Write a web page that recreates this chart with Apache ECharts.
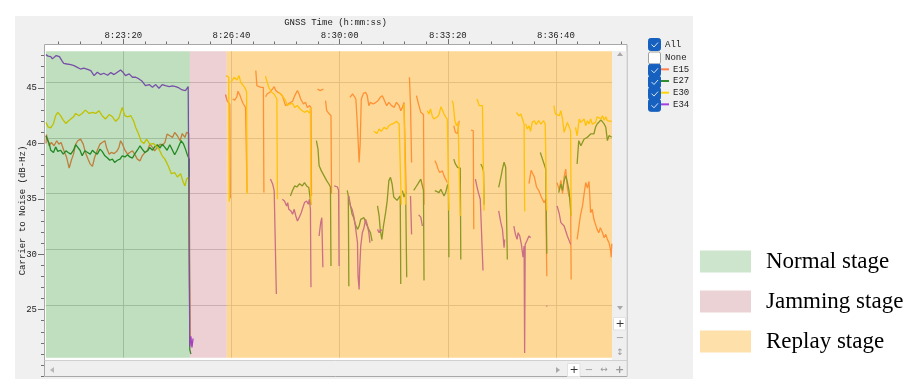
<!DOCTYPE html>
<html>
<head>
<meta charset="utf-8">
<script src="https://cdn.jsdelivr.net/npm/echarts@6/dist/echarts.min.js"></script>
<style>
html, body { margin: 0; padding: 0; background: #fff; }
#main { width: 919px; height: 389px; }
</style>
</head>
<body>
<div id="main"></div>
<script>
// GNSS time in seconds of day, C/N0 in dB-Hz, null = signal lost
var e15 = [
  [30057,39.5],[30058,40.3],[30063,39.3],[30067,39.6],[30072,39.3],[30077,39.75],[30081,39.45],[30085,39.6],[30090,38.9],[30095,38.3],
  [30100,37.3],[30104,38.0],[30108,38.55],[30112,39.45],[30116,39.75],[30121,39.9],[30126,39.45],[30130,38.7],[30135,38.1],[30139,37.65],
  [30143,37.45],[30147,38.25],[30152,38.9],[30157,39.45],[30161,39.6],[30166,39.75],[30169,39.15],[30174,38.55],[30178,38.7],[30183,38.6],
  [30188,38.8],[30192,39.15],[30195,39.75],[30198,39.5],[30203,38.9],[30208,38.55],[30212,38.7],[30217,38.85],[30221,38.55],[30226,38.1],
  [30231,37.95],[30235,38.4],[30240,38.7],[30245,38.9],[30249,39.45],[30254,39.15],[30258,38.85],[30263,39.15],[30268,39.45],[30272,39.3],
  [30277,39.6],[30281,40.35],[30286,40.2],[30291,40.05],[30295,40.5],[30300,40.2],[30305,39.75],[30309,40.4],[30314,40.05],[30317,40.5],
  [30321,40.4],[30323,22.0],null,
  [30389,43.9],[30392,43.35],[30395,43.2],[30397,43.0],[30398,34.6],null,
  [30402,43.5],[30406,43.4],[30410,43.7],[30412,44.2],[30416,43.8],[30418,43.5],[30422,43.05],[30426,42.75],[30428,42.75],[30429,35.1],null,
  [30445,46.05],[30447,44.7],[30451,44.6],[30455,44.55],[30459,44.55],[30460,35.1],null,
  [30463,43.7],[30466,43.95],[30471,44.1],[30476,44.4],[30479,44.6],[30482,44.25],[30486,44.1],[30490,44.0],[30494,43.8],[30500,42.9],
  [30506,43.1],[30513,43.3],[30517,43.8],[30522,44.25],[30525,43.95],[30528,43.5],[30533,43.05],[30537,43.2],[30540,42.75],[30545,42.9],
  [30547,42.7],[30548,34.8],null,
  [30559,44.4],[30564,44.25],[30570,44.4],null,
  [30574,43.35],[30576,42.45],[30580,42.2],[30584,42.0],[30585,35.0],null,
  [30619,43.65],[30624,43.95],[30627,44.1],[30630,43.5],[30633,41.0],[30636,37.8],[30638,39.5],[30640,43.5],[30644,44.0],[30648,44.1],
  [30651,43.8],[30654,42.9],[30657,43.2],[30662,43.05],[30667,43.2],[30671,43.35],[30675,43.65],[30679,43.8],[30683,43.35],[30687,42.9],
  [30691,43.2],[30696,42.9],[30701,42.75],[30705,43.2],[30710,42.9],[30713,42.45],[30716,42.75],[30719,43.2],[30722,43.1],[30723,35.0],null,
  [30729,45.45],[30731,43.0],[30733,37.8],null,
  [30742,43.8],[30745,43.2],[30748,43.05],[30750,42.3],[30753,42.15],[30755,42.1],[30756,34.0],null,
  [30776,37.97],[30779,37.67],[30782,37.2],[30785,36.9],[30790,37.05],[30793,36.6],[30796,36.3],[30799,36.0],null,
  [30811,41.1],[30814,40.5],[30818,40.4],[30821,41.55],null,
  [30843,40.7],[30847,40.66],[30848,31.8],null,
  [30950,35.9],[30954,37.1],[30957,37.2],[30960,36.5],[30964,35.6],[30968,35.3],[30972,34.8],[30978,34.2],[30981,34.5],[30983,27.6],null,
  [31002,36.0],[31006,35.3],[31009,36.2],[31012,35.0],[31015,36.5],[31018,37.2],[31021,35.5],[31024,34.8],[31027,34.5],[31028,27.3],null,
  [31039,30.9],[31042,31.95],[31045,33.0],[31049,33.9],[31052,35.0],[31055,36.0],[31058,35.5],[31061,36.1],[31064,33.3],[31067,33.6],
  [31070,32.7],[31073,32.25],[31076,31.8],[31079,31.5],[31082,31.95],[31086,31.5],[31089,31.05],[31092,31.35],[31095,30.9],[31098,30.6],
  [31101,29.9],[31102,29.3],[31103,30.5]
];

var e27 = [
  [30057,40.2],[30060,40.3],[30063,39.5],[30066,38.9],[30071,38.7],[30075,39.2],[30079,38.8],[30084,38.9],[30089,38.55],[30094,38.85],
  [30098,38.7],[30103,38.55],[30108,38.9],[30112,39.4],[30115,39.5],[30120,38.9],[30124,38.4],[30129,38.85],[30134,38.7],[30139,38.55],
  [30143,38.9],[30147,38.7],[30152,38.55],[30157,39.0],[30161,38.8],[30166,38.4],[30171,38.2],[30175,38.0],[30180,38.1],[30184,37.8],
  [30189,38.0],[30194,38.1],[30198,38.4],[30203,38.3],[30208,38.5],[30212,38.3],[30217,38.2],[30221,38.55],[30226,38.9],[30231,39.3],
  [30235,39.0],[30240,38.7],[30245,38.85],[30249,39.15],[30254,38.9],[30258,39.2],[30263,39.4],[30268,39.1],[30272,39.45],[30277,39.15],
  [30281,38.9],[30286,39.4],[30291,38.9],[30295,38.5],[30299,38.85],[30303,39.3],[30307,39.75],[30311,39.5],[30315,39.0],[30318,38.55],
  [30322,38.1],[30323,21.0],[30325,20.6],null,
  [30509,34.8],[30513,35.3],[30517,35.7],[30521,35.6],[30526,35.9],[30531,35.7],[30535,36.0],[30539,35.7],[30543,35.55],[30546,35.6],
  [30547,34.0],null,
  [30557,39.76],[30560,39.0],[30562,37.52],[30566,37.07],[30571,36.62],[30576,36.17],[30580,35.87],[30583,35.6],[30584,28.5],null,
  [30614,35.3],[30616,34.8],[30617,26.7],null,
  [30619,34.2],[30623,33.15],[30626,32.85],[30629,32.25],[30633,31.8],[30636,32.1],[30639,32.7],[30642,32.55],[30645,32.85],[30648,32.4],
  [30651,32.1],[30654,32.25],[30657,31.5],[30660,30.75],null,
  [30670,33.9],[30673,33.0],[30675,31.8],[30678,30.9],[30681,32.1],[30685,33.3],[30688,34.4],[30691,36.17],[30694,36.47],[30697,35.87],
  [30700,34.7],[30706,34.4],[30712,34.8],[30713,26.9],null,
  [30716,35.27],[30719,34.7],[30722,35.12],[30724,27.5],null,
  [30737,35.3],[30741,35.6],[30745,35.9],[30750,36.3],[30753,36.3],[30755,35.3],[30756,27.2],null,
  [30776,35.27],[30779,35.4],[30784,35.1],[30787,35.4],[30790,35.27],[30793,34.8],[30796,35.1],[30799,35.7],[30801,35.9],[30802,29.3],null,
  [30811,38.1],[30814,37.67],[30818,37.37],[30821,37.5],[30823,37.3],[30824,29.1],null,
  [30861,37.67],[30864,37.37],[30866,37.0],[30867,34.0],null,
  [30894,35.57],[30898,36.47],[30901,37.22],[30904,37.82],[30907,37.37],[30909,37.2],[30910,29.1],null,
  [30971,38.7],[30975,38.1],[30978,37.67],[30981,37.2],[30983,29.6],null,
  [31005,35.1],[31009,35.87],[31012,35.27],[31015,36.17],[31018,36.62],[31021,36.02],[31024,35.27],[31027,35.1],[31028,33.0],null,
  [31039,37.67],[31042,39.76],[31046,39.31],[31049,39.46],[31052,39.91],[31055,39.76],[31058,40.06],[31061,39.91],[31064,40.36],[31067,40.51],
  [31070,40.36],[31073,40.96],[31076,41.26],[31079,41.41],[31083,41.62],[31086,41.56],[31089,41.26],[31092,40.96],[31095,39.76],[31098,40.21],
  [31101,40.36],[31103,40.06]
];

var e30 = [
  [30057,41.4],[30061,41.0],[30066,40.9],[30071,41.3],[30075,42.0],[30079,42.3],[30084,42.0],[30089,41.6],[30094,41.3],[30098,41.5],
  [30103,41.7],[30108,41.9],[30112,42.2],[30118,42.0],[30124,42.2],[30130,42.5],[30137,42.2],[30143,42.3],[30149,42.2],[30155,42.45],
  [30161,42.0],[30167,41.7],[30174,42.1],[30180,41.9],[30186,41.5],[30192,41.8],[30198,42.75],[30203,42.0],[30208,41.9],[30214,42.0],
  [30219,41.55],[30223,40.95],[30228,40.4],[30233,39.7],[30238,39.5],[30243,39.9],[30249,39.45],[30256,39.5],[30260,39.3],[30266,39.0],
  [30272,38.4],[30277,38.1],[30283,37.5],[30289,36.8],[30295,36.9],[30300,36.5],[30306,36.8],[30311,36.0],[30314,35.7],[30317,36.3],
  [30321,36.5],[30323,22.5],[30324,21.8],null,
  [30390,45.6],[30393,45.5],[30395,45.45],[30396,34.3],null,
  [30399,45.0],[30402,44.85],[30405,45.45],[30410,45.2],[30414,45.6],[30417,45.0],[30422,44.7],[30426,44.4],[30428,44.1],[30429,35.0],null,
  [30463,45.54],[30466,45.0],[30469,44.55],[30474,44.1],[30479,43.95],[30482,44.1],[30484,43.5],[30485,34.5],null,
  [30488,44.1],[30491,44.25],[30496,43.65],[30500,43.35],[30503,42.9],[30508,43.05],[30513,43.1],[30517,42.75],[30522,42.9],[30527,42.6],
  [30531,42.45],[30535,42.3],[30540,42.45],[30545,42.22],[30546,42.75],[30547,34.0],null,
  [30663,40.6],[30669,40.4],[30673,40.8],[30677,40.6],[30682,40.95],[30687,40.8],[30691,41.1],[30696,41.25],[30700,41.3],[30705,41.5],
  [30710,41.25],[30713,41.4],[30714,34.0],null,
  [30719,43.05],[30721,42.9],[30722,34.0],null,
  [30762,42.45],[30765,42.15],[30768,42.6],[30771,42.0],[30774,41.7],[30777,41.55],[30781,41.9],[30784,42.15],[30787,42.8],[30790,42.5],
  [30793,42.15],[30796,41.9],[30799,41.7],[30801,41.6],[30802,33.5],null,
  [30808,43.35],[30810,43.05],[30813,41.55],[30816,41.1],[30819,41.4],[30822,41.25],[30823,33.0],null,
  [30854,43.5],[30858,42.9],[30861,42.75],[30864,42.9],[30866,42.8],[30867,33.5],null,
  [30927,42.3],[30931,42.0],[30935,42.15],[30938,41.7],[30941,41.25],[30942,33.4],null,
  [30944,41.25],[30947,40.8],[30950,41.1],[30953,40.6],[30956,41.4],[30960,41.55],[30963,41.2],[30968,41.55],[30972,41.25],[30977,41.55],
  [30980,41.25],[30982,41.1],[30983,33.5],null,
  [30996,42.9],[30999,42.15],[31002,42.3],[31006,42.0],[31009,42.45],[31012,41.7],[31015,40.5],[31018,40.66],[31021,41.4],[31024,41.25],
  [31027,40.66],[31028,33.0],null,
  [31036,40.96],[31039,40.2],[31043,41.7],[31046,41.4],[31049,41.25],[31052,41.7],[31055,41.1],[31058,41.55],[31061,41.25],[31064,41.7],
  [31067,41.25],[31070,41.1],[31073,41.4],[31076,41.9],[31079,41.9],[31083,41.7],[31086,42.0],[31089,41.6],[31092,41.9],[31095,41.55],
  [31098,41.6],[31101,41.5],[31103,41.55]
];

var e34 = [
  [30057,47.48],[30061,47.35],[30066,47.3],[30069,47.1],[30072,47.18],[30076,47.4],[30079,47.45],[30082,47.3],[30084,47.18],[30087,46.9],
  [30090,46.7],[30096,46.64],[30103,46.58],[30109,46.49],[30115,46.34],[30121,46.19],[30127,46.28],[30134,46.16],[30140,46.04],[30146,45.6],
  [30152,45.9],[30158,45.69],[30164,45.81],[30171,45.63],[30177,45.87],[30183,45.69],[30189,45.9],[30195,46.1],[30200,45.87],[30204,45.6],
  [30211,45.75],[30217,45.45],[30223,45.45],[30229,45.3],[30235,45.09],[30241,44.7],[30248,44.79],[30254,44.55],[30260,44.79],[30266,44.46],
  [30272,44.79],[30278,44.7],[30285,44.61],[30291,44.67],[30297,44.61],[30303,44.49],[30309,44.31],[30315,44.25],[30320,44.61],[30322,44.61],
  [30323,21.3],[30325,22.2],[30327,21.2],[30329,22.0],null,
  [30472,36.32],[30476,35.9],[30479,35.27],[30482,35.1],[30483,26.0],null,
  [30494,34.5],[30498,34.35],[30502,33.9],[30504,34.2],[30506,33.6],[30510,33.45],[30513,33.15],[30516,33.6],[30519,33.0],[30522,32.55],
  [30525,32.85],[30529,33.3],[30533,33.9],[30535,34.2],[30539,34.35],[30542,34.05],[30544,34.5],[30546,33.6],[30547,26.6],null,
  [30562,31.2],[30565,32.4],[30567,32.85],[30569,28.4],null,
  [30590,35.7],[30596,35.6],[30598,35.3],[30599,28.5],null,
  [30617,34.8],[30620,33.9],[30623,33.6],[30626,33.0],[30629,32.1],[30633,30.6],[30634,27.6],[30636,26.4],[30637,28.2],[30639,30.3],
  [30642,31.5],[30645,31.95],[30648,32.7],[30651,32.25],[30654,31.5],[30656,30.6],null,
  [30670,31.8],[30673,31.5],[30676,31.8],[30678,31.65],null,
  [30731,34.8],[30733,31.35],null,
  [30746,33.1],[30750,32.9],[30753,32.1],null,
  [30851,36.3],[30854,35.6],[30857,35.0],[30860,34.5],[30863,34.5],[30865,28.1],null,
  [30894,33.45],[30898,32.4],[30901,31.8],[30904,30.15],[30905,30.9],null,
  [30922,32.1],[30925,31.35],[30928,30.9],[30930,31.5],[30933,31.2],[30936,30.45],[30939,29.3],[30941,30.3],[30942,20.7],[30943,30.45],
  [30946,30.75],[30950,31.2],[30953,31.05],null,
  [30982,24.9],[30984,24.9],null,
  [31002,33.9],[31006,33.2],[31009,32.4],[31012,32.55],[31015,32.1],[31018,31.95],[31021,31.2],[31024,31.35],[31027,30.45],null
];

var satNames = ['E15', 'E27', 'E30', 'E34'];
var satColors = ['#ff7f50', '#2e8b2e', '#ffd700', '#a040e0'];

var stageNames = ['Normal stage', 'Jamming stage', 'Replay stage'];
var stageStart = [30057, 30323, 30391];
var stageEnd = [30323, 30391, 31103.5];
var stageFill = ['rgba(0,128,0,0.25)', 'rgba(180,66,84,0.25)', 'rgba(253,168,22,0.45)'];
var stageLegend = ['#c0dfc0', '#e6c8cb', '#fed896'];

var timeTicks = [30200, 30400, 30600, 30800, 31000];
var cnTicks = [25, 30, 35, 40, 45];

var minorTime = [];
for (var t = 30080; t <= 31120; t += 40) minorTime.push(t);
var minorCn = [];
for (var c = 19; c <= 48; c++) minorCn.push(c);

var guiFont = 'Liberation Mono';

function hms(v) {
    var h = Math.floor(v / 3600);
    var m = Math.floor((v % 3600) / 60);
    var s = Math.round(v % 60);
    return h + ':' + (m < 10 ? '0' : '') + m + ':' + (s < 10 ? '0' : '') + s;
}

function toData(pts) {
    return pts.map(function (p) { return p === null ? ['-', '-'] : p; });
}

var docChart = document.getElementById('main');
var myChart = echarts.init(docChart, null, { renderer: 'canvas' });

var series = [];
[e15, e27, e30, e34].forEach(function (pts, i) {
    series.push({
        name: satNames[i],
        type: 'line',
        xAxisIndex: 2,
        yAxisIndex: 2,
        data: toData(pts),
        showSymbol: false,
        symbol: 'none',
        lineStyle: { color: satColors[i], width: 1.3 },
        itemStyle: { color: satColors[i] },
        z: 2
    });
});
stageNames.forEach(function (name, i) {
    series.push({
        name: name,
        type: 'scatter',
        xAxisIndex: 2,
        yAxisIndex: 2,
        data: [],
        itemStyle: { color: stageLegend[i] },
        markArea: {
            silent: true,
            z: 10,
            itemStyle: { color: stageFill[i], borderWidth: 0 },
            data: [[{ xAxis: stageStart[i] }, { xAxis: stageEnd[i] }]]
        }
    });
});

// gray panel, scroll bars and the checkbox list (GUI decoration)
var boxTops = [38.5, 52, 64.3, 76, 87.6, 99.3];
var gui = [
    { type: 'rect', z: -10, shape: { x: 15, y: 16, width: 678, height: 363 }, style: { fill: '#f0f0f0' } },
    { type: 'rect', z: -9, shape: { x: 44.5, y: 44.5, width: 582.5, height: 332 }, style: { fill: '#fff', stroke: '#a8a8a8', lineWidth: 1 } },
    { type: 'rect', z: -8, shape: { x: 612, y: 51, width: 14.5, height: 309 }, style: { fill: '#efefef' } },
    { type: 'rect', z: -8, shape: { x: 45, y: 360, width: 581.5, height: 16 }, style: { fill: '#efefef' } },
    { type: 'line', z: -7, shape: { x1: 44.5, y1: 360.5, x2: 627, y2: 360.5 }, style: { stroke: '#d0d0d0', lineWidth: 1 } },
    { type: 'polygon', z: -7, shape: { points: [[617, 56], [623, 56], [620, 52]] }, style: { fill: '#a8a8a8' } },
    { type: 'polygon', z: -7, shape: { points: [[617, 306], [623, 306], [620, 310]] }, style: { fill: '#a8a8a8' } },
    { type: 'polygon', z: -7, shape: { points: [[54, 367], [54, 373], [50, 370]] }, style: { fill: '#b8b8b8' } },
    { type: 'polygon', z: -7, shape: { points: [[556, 367], [556, 373], [560, 370]] }, style: { fill: '#a8a8a8' } },
    { type: 'rect', z: -7, shape: { x: 613.5, y: 317.5, width: 12, height: 12.5 }, style: { fill: '#fff', stroke: '#e2e2e2' } },
    { type: 'rect', z: -7, shape: { x: 567.5, y: 363.5, width: 12.5, height: 13 }, style: { fill: '#fff', stroke: '#e2e2e2' } },
    { type: 'text', z: -6, style: { text: '+', x: 620, y: 324, fill: '#333', font: '11px DejaVu Sans', align: 'center', verticalAlign: 'middle' } },
    { type: 'text', z: -6, style: { text: '\u2212', x: 620, y: 338.5, fill: '#999', font: '10px DejaVu Sans', align: 'center', verticalAlign: 'middle' } },
    { type: 'text', z: -6, style: { text: '\u2195', x: 620, y: 353, fill: '#999', font: '9px DejaVu Sans', align: 'center', verticalAlign: 'middle' } },
    { type: 'text', z: -6, style: { text: '+', x: 574, y: 370, fill: '#333', font: '11px DejaVu Sans', align: 'center', verticalAlign: 'middle' } },
    { type: 'text', z: -6, style: { text: '\u2212', x: 589, y: 370, fill: '#999', font: '10px DejaVu Sans', align: 'center', verticalAlign: 'middle' } },
    { type: 'text', z: -6, style: { text: '\u2194', x: 604, y: 370, fill: '#999', font: '9px DejaVu Sans', align: 'center', verticalAlign: 'middle' } },
    { type: 'text', z: -6, style: { text: '+', x: 619.5, y: 370, fill: '#999', font: 'bold 11px DejaVu Sans', align: 'center', verticalAlign: 'middle' } },
    { type: 'text', style: { text: 'All', x: 665, y: 44.5, fill: '#222', font: '9px ' + guiFont, verticalAlign: 'middle' } },
    { type: 'text', style: { text: 'None', x: 665, y: 58, fill: '#222', font: '9px ' + guiFont, verticalAlign: 'middle' } }
];
boxTops.forEach(function (top, i) {
    var checked = i !== 1;
    gui.push({
        type: 'rect',
        shape: { x: 648.5, y: top, width: 12, height: 12, r: 2 },
        style: checked ? { fill: '#1660bf', stroke: '#1660bf' } : { fill: '#fff', stroke: '#a0a0a0' }
    });
    if (checked) {
        gui.push({
            type: 'polyline',
            shape: { points: [[651.5, top + 6], [654, top + 8.5], [658, top + 4]] },
            style: { stroke: '#d6e4f7', lineWidth: 1, fill: null }
        });
    }
});

var option = {
    animation: false,
    backgroundColor: '#fff',
    grid: [
        { left: 44, top: 44, width: 583, height: 333, show: false },
        { left: 45.7, top: 51.3, right: 307, bottom: 31.3, show: false }
    ],
    xAxis: [
        {
            gridIndex: 0, type: 'value', position: 'top', min: 30053.4, max: 31131.3,
            axisLine: { show: false },
            axisTick: { customValues: minorTime, length: 2.5, lineStyle: { color: '#707070' } },
            axisLabel: { customValues: timeTicks, formatter: hms, margin: 4, color: '#222', fontSize: 9, fontFamily: guiFont },
            splitLine: { show: false },
            name: 'GNSS Time (h:mm:ss)', nameLocation: 'middle', nameGap: 17, nameMoveOverlap: false,
            nameTextStyle: { color: '#222', fontSize: 9, fontFamily: guiFont }
        },
        {
            gridIndex: 0, type: 'value', position: 'top', min: 30053.4, max: 31131.3,
            axisLine: { show: false },
            axisTick: { customValues: timeTicks, length: 5, lineStyle: { color: '#707070' } },
            axisLabel: { show: false },
            splitLine: { show: false }
        },
        {
            gridIndex: 1, type: 'value', min: 30056.6, max: 31103.5,
            axisLine: { show: false }, axisTick: { show: false }, axisLabel: { show: false },
            splitLine: { show: true, showMinLine: false, showMaxLine: false, lineStyle: { color: '#d2d2d2', width: 1 } }
        }
    ],
    yAxis: [
        {
            gridIndex: 0, type: 'value', position: 'left', min: 18.923, max: 48.977,
            axisLine: { show: false },
            axisTick: { customValues: cnTicks, length: 6, lineStyle: { color: '#707070' } },
            axisLabel: { customValues: cnTicks, margin: 7, color: '#222', fontSize: 9, fontFamily: guiFont },
            splitLine: { show: false },
            name: 'Carrier to Noise (dB-Hz)', nameLocation: 'middle', nameGap: 17, nameMoveOverlap: false,
            nameTextStyle: { color: '#222', fontSize: 9, fontFamily: guiFont }
        },
        {
            gridIndex: 0, type: 'value', position: 'left', offset: 0, min: 18.923, max: 48.977,
            axisLine: { show: false },
            axisTick: { customValues: minorCn, length: 3, lineStyle: { color: '#707070' } },
            axisLabel: { show: false },
            splitLine: { show: false }
        },
        {
            gridIndex: 1, type: 'value', min: 20.28, max: 47.78,
            axisLine: { show: false }, axisTick: { show: false }, axisLabel: { show: false },
            splitLine: { show: true, showMinLine: false, showMaxLine: false, lineStyle: { color: '#d2d2d2', width: 1 } }
        }
    ],
    legend: [
        {
            data: satNames.map(function (n, i) { return { name: n, itemStyle: { color: satColors[i], borderWidth: 0 } }; }),
            orient: 'vertical', left: 661, top: 63.5, padding: 0,
            icon: 'rect', itemWidth: 8, itemHeight: 2, itemGap: 0,
            selectedMode: false,
            textStyle: { color: '#222', fontSize: 9, fontFamily: guiFont, lineHeight: 11.67, padding: [0, 0, 0, -1] }
        },
        {
            data: stageNames,
            orient: 'vertical', left: 700, top: 250, padding: 0,
            icon: 'rect', itemWidth: 51, itemHeight: 22, itemGap: 17,
            selectedMode: false,
            textStyle: { color: '#000', fontSize: 23, fontFamily: 'Liberation Serif', lineHeight: 22, padding: [0, 0, 0, 10] }
        }
    ],
    graphic: gui,
    series: series
};

myChart.setOption(option);
</script>
</body>
</html>
